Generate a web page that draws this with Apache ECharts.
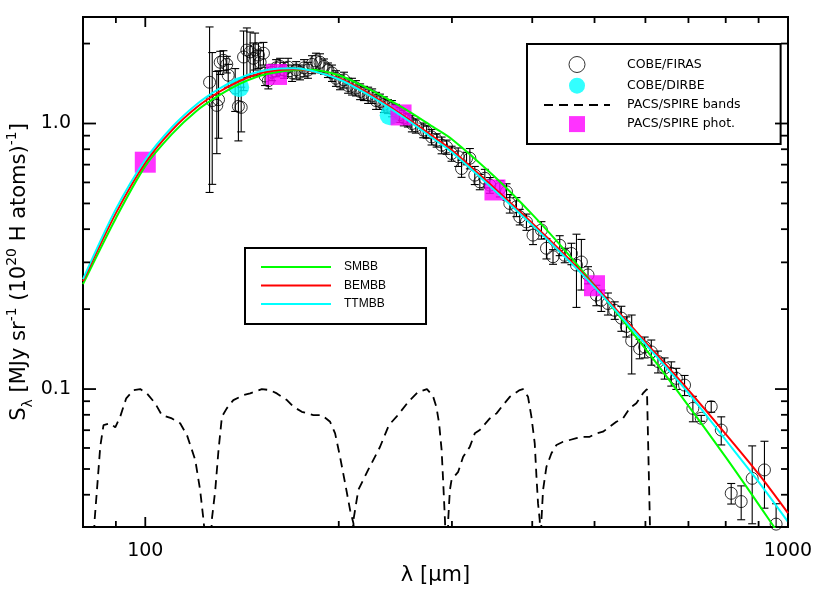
<!DOCTYPE html>
<html><head><meta charset="utf-8">
<script src="https://cdn.jsdelivr.net/npm/echarts@6/dist/echarts.min.js"></script>
<style>html,body{margin:0;padding:0;background:#fff}#c{width:830px;height:593px}</style>
</head><body><div id="c"></div>
<script>
// ---------- data ----------
const modelLam = [80,90,100,110,120,130,140,150,160,170,180,200,220,250,280,300,350,400,450,500,600,700,800,900,1000];
const smbbS  = [0.2484,0.4400,0.6909,0.9115,1.1125,1.2724,1.4060,1.5068,1.5600,1.5870,1.5939,1.5199,1.3696,1.1568,0.9727,0.8727,0.6284,0.4547,0.3323,0.2458,0.1417,0.0865,0.0554,0.0368,0.0253];
const bembbS = [0.2550,0.4597,0.7119,0.9436,1.1468,1.3115,1.4428,1.5394,1.5870,1.6009,1.5802,1.4808,1.3172,1.0839,0.8958,0.7933,0.5683,0.4215,0.3193,0.2452,0.1503,0.0991,0.0677,0.0479,0.0341];
const ttmbbS = [0.2594,0.4759,0.7307,0.9684,1.1771,1.3461,1.4808,1.5663,1.6076,1.6146,1.5870,1.4681,1.3003,1.0700,0.8804,0.7797,0.5587,0.4143,0.3138,0.2420,0.1477,0.0966,0.0643,0.0447,0.0316];

const band1Lam = [83,83.4,84.1,85.1,86.1,88.2,89.8,91.4,93.4,95.9,98.2,100.6,103.6,106.1,110.0,113.3,116.1,119.6,121.7,123.2,124.4];
const band1S   = [0.025,0.0321,0.0417,0.0607,0.0732,0.0743,0.0718,0.0787,0.0923,0.0991,0.1000,0.0963,0.0884,0.0798,0.0775,0.0743,0.0671,0.0541,0.0417,0.0321,0.025];
const band2Lam = [126.5,126.9,128.5,130.0,131.6,133.9,137.1,142.2,145.6,151.8,156.4,160.2,166.1,170.0,175.2,182.6,188.2,193.9,197.4,200.9,204.6,208.3,210.8,211.5];
const band2S   = [0.025,0.0321,0.0417,0.0590,0.0787,0.0846,0.0909,0.0949,0.0963,0.1000,0.0991,0.0963,0.0909,0.0858,0.0821,0.0798,0.0798,0.0753,0.0681,0.0556,0.0442,0.0350,0.0312,0.025];
const band3Lam = [210.0,210.8,214.5,222.2,231.8,239.4,246.4,257.2,265.6,274.3,280.3,283.8,286.5,289.1,290.8,292.6,293.5];
const band3S   = [0.025,0.0321,0.0417,0.0496,0.0605,0.0732,0.0791,0.0901,0.0974,0.1000,0.0941,0.0855,0.0743,0.0590,0.0443,0.0321,0.025];
const band4Lam = [295.5,296.0,297.8,299.6,306.8,312.3,319.9,325.6,331.5,343.6,352.0,360.4,369.1,382.5,387.0,394.0,398.8,403.6,406.1,408.4,410.9,412.0];
const band4S   = [0.025,0.0321,0.0417,0.0455,0.0488,0.0556,0.0607,0.0681,0.0701,0.0775,0.0810,0.0871,0.0935,0.0991,0.1000,0.0935,0.0787,0.0625,0.0468,0.0371,0.0321,0.025];
const band5Lam = [412.5,413.4,415.8,420.9,428.5,436.3,446.7,457.6,468.7,479.8,491.4,503.3,515.4,527.9,540.7,553.7,567.1,580.8,594.6,603.3,606.9,611.0];
const band5S   = [0.025,0.0321,0.0417,0.0510,0.0573,0.0616,0.0633,0.0643,0.0653,0.0661,0.0661,0.0681,0.0691,0.0721,0.0753,0.0775,0.0846,0.0884,0.0963,0.1000,0.0991,0.025];

const firasLam = [125.9,127.1,129.2,130.0,130.8,132.3,133.9,134.6,138.0,139.6,141.0,142.2,143.9,145.6,147.3,148.2,150.0,150.9,152.7,153.6,155.4,
157.5,159.8,162.1,164.4,166.8,169.2,171.7,174.1,176.6,179.1,181.7,184.3,187.0,189.7,192.4,195.2,198.0,200.9,203.8,206.8,209.7,212.7,215.9,218.9,222.2,225.4,228.6,231.8,235.1,238.5,242.0,245.5,248.9,252.5,256.2,259.9,263.6,
270.7,274.0,278.9,284.0,289.1,294.3,299.6,306.8,310.5,316.1,319.9,325.6,331.5,337.5,343.6,356.2,364.8,369.1,378.0,382.5,391.8,401.1,413.4,420.9,430.9,441.4,449.4,460.3,468.7,477.0,488.5,503.3,512.3,524.6,537.5,550.5,560.5,571.2,587.7,598.4,612.8,627.6,642.7,658.3,670.3,690.3,711.2,732.8,759.5,787.3,815.9,845.6,879.6,919.1,958.3];
const firasS = [1.43,1.22,1.17,1.23,1.70,1.73,1.67,1.52,1.36,1.16,1.15,1.78,1.89,1.86,1.76,1.89,1.81,1.70,1.84,1.51,1.45,
1.56,1.62,1.64,1.59,1.63,1.55,1.59,1.56,1.62,1.59,1.67,1.72,1.70,1.64,1.59,1.55,1.48,1.43,1.46,1.39,1.38,1.36,1.32,1.30,1.28,1.27,1.22,1.21,1.18,1.16,1.14,1.11,1.08,1.05,1.03,1.00,0.98,
0.944,0.930,0.890,0.865,0.829,0.816,0.771,0.749,0.677,0.739,0.740,0.639,0.603,0.622,0.586,0.569,0.553,0.500,0.486,0.445,0.426,0.380,0.397,0.339,0.315,0.348,0.319,0.324,0.293,0.301,0.269,0.226,0.216,0.210,0.198,0.185,0.172,0.152,0.142,0.144,0.138,0.127,0.120,0.1146,0.1097,0.1035,0.0846,0.0776,0.0858,0.0701,0.0405,0.0377,0.0461,0.0496,0.0310];
const firasErr = [0.88,0.63,0.40,0.35,0.17,0.15,0.12,0.15,0.25,0.30,0.22,0.45,0.40,0.35,0.25,0.30,0.20,0.18,0.18,0.12,0.10,
0.11,0.12,0.12,0.11,0.13,0.11,0.12,0.10,0.12,0.11,0.13,0.12,0.13,0.11,0.10,0.11,0.10,0.09,0.10,0.09,0.10,0.09,0.09,0.08,0.09,0.08,0.09,0.08,0.08,0.07,0.08,0.07,0.07,0.07,0.06,0.07,0.06,
0.06,0.05,0.06,0.05,0.06,0.05,0.05,0.06,0.05,0.04,0.065,0.05,0.04,0.05,0.04,0.04,0.04,0.04,0.04,0.03,0.03,0.03,0.03,0.03,0.02,0.03,0.02,0.03,0.09,0.065,0.02,0.02,0.02,0.02,0.015,0.02,0.015,0.038,0.012,0.013,0.015,0.012,0.011,0.012,0.010,0.009,0.0093,0.002,0.004,0.0085,0.0036,0.0055,0.015,0.014,0.006];

const dirbeLam = [140, 240];
const dirbeS   = [1.37, 1.074];
const photLam  = [100, 160, 250, 350, 500];
const photS    = [0.715, 1.53, 1.077, 0.562, 0.245];

const xTickMajor = [100, 1000];
const xTickMinor = [80, 90, 200, 300, 400, 500, 600, 700, 800, 900];
const yTickMajor = [0.1, 1];
const yTickMinor = [0.04,0.05,0.06,0.07,0.08,0.09,0.2,0.3,0.4,0.5,0.6,0.7,0.8,0.9,2];
const xLabelVals = [100, 1000];
const xLabelText = ['100', '1000'];
const yLabelVals = [0.1, 1];
const yLabelText = ['0.1', '1.0'];

// ---------- chart ----------
const FONT = 'DejaVu Sans';
const xy = (xs, ys) => xs.map((x, i) => [x, ys[i]]);
const near = (a, b) => Math.abs(Math.log10(a) - Math.log10(b)) < 1e-6;
const bands = [[band1Lam, band1S], [band2Lam, band2S], [band3Lam, band3S], [band4Lam, band4S], [band5Lam, band5S]];
const hidden = {color: 'rgba(0,0,0,0)', borderColor: 'rgba(0,0,0,0)', borderWidth: 0};

function errRender(params, api) {
  const lam = api.value(0), s = api.value(1), e = api.value(2);
  const x = api.coord([lam, s])[0];
  const yt = api.coord([lam, s + e])[1];
  const lo = s - e;
  const cs = params.coordSys;
  const yb = lo > 0 ? api.coord([lam, lo])[1] : cs.y + cs.height + 20;
  const st = {stroke: '#000', lineWidth: 1.1};
  const cw = 4;
  return {type: 'group', children: [
    {type: 'line', shape: {x1: x, y1: yt, x2: x, y2: yb}, style: st},
    {type: 'line', shape: {x1: x - cw, y1: yt, x2: x + cw, y2: yt}, style: st},
    {type: 'line', shape: {x1: x - cw, y1: yb, x2: x + cw, y2: yb}, style: st}
  ]};
}

function tickRender(params, api) {
  const cs = params.coordSys;
  const kind = api.value(2);
  const st = {stroke: '#000', lineWidth: 1.8};
  if (kind <= 1) {
    const px = api.coord([api.value(0), 1])[0];
    const len = kind === 1 ? 10 : 6;
    const b = cs.y + cs.height, t = cs.y;
    return {type: 'group', children: [
      {type: 'line', shape: {x1: px, y1: b, x2: px, y2: b - len}, style: st},
      {type: 'line', shape: {x1: px, y1: t, x2: px, y2: t + len}, style: st}
    ]};
  }
  const py = api.coord([100, api.value(1)])[1];
  const len = kind === 3 ? 13 : 7;
  const l = cs.x, r = cs.x + cs.width;
  return {type: 'group', children: [
    {type: 'line', shape: {x1: l, y1: py, x2: l + len, y2: py}, style: st},
    {type: 'line', shape: {x1: r, y1: py, x2: r - len, y2: py}, style: st}
  ]};
}

const tickData = [].concat(
  xTickMinor.map(v => [v, 1, 0]),
  xTickMajor.map(v => [v, 1, 1]),
  yTickMinor.map(v => [100, v, 2]),
  yTickMajor.map(v => [100, v, 3])
);

const chart = echarts.init(document.getElementById('c'), null, {renderer: 'canvas'});
const option = {
  animation: false,
  backgroundColor: '#fff',
  grid: {left: 83, right: 42, top: 17, bottom: 66, show: true, borderColor: '#000', borderWidth: 2,
    backgroundColor: 'rgba(0,0,0,0)', containLabel: false, outerBoundsMode: 'none'},
  xAxis: {
    type: 'log', logBase: 10, min: 80, max: 1000,
    axisLine: {show: false}, axisTick: {show: false}, splitLine: {show: false},
    axisLabel: {margin: 15, fontFamily: FONT, fontSize: 19, color: '#000',
      formatter: v => { const i = xLabelVals.findIndex(t => near(t, v)); return i >= 0 ? xLabelText[i] : ''; }},
    name: 'λ [μm]', nameLocation: 'middle', nameGap: 38, nameMoveOverlap: false,
    nameTextStyle: {fontFamily: FONT, fontSize: 21, color: '#000'}
  },
  yAxis: {
    type: 'log', logBase: 10, min: 0.03024, max: 2.518,
    axisLine: {show: false}, axisTick: {show: false}, splitLine: {show: false},
    axisLabel: {margin: 12, fontFamily: FONT, fontSize: 19, color: '#000',
      formatter: v => { const i = yLabelVals.findIndex(t => near(t, v)); return i >= 0 ? yLabelText[i] : ''; }},
    name: '{t|S}{sub|λ}{t| [MJy sr}{sup|-1}{t| (10}{sup|20}{t| H atoms)}{sup|-1}{t|]}',
    nameLocation: 'middle', nameGap: 48, nameRotate: 90, nameMoveOverlap: false,
    nameTextStyle: {fontFamily: FONT, fontSize: 21, color: '#000',
      rich: {
        t: {fontFamily: FONT, fontSize: 21, color: '#000', lineHeight: 30},
        sup: {fontFamily: FONT, fontSize: 14, color: '#000', verticalAlign: 'top'},
        sub: {fontFamily: FONT, fontSize: 14, color: '#000', verticalAlign: 'bottom'}
      }}
  },
  legend: [
    {
      orient: 'vertical', left: 527, top: 44, padding: [12, 40, 12, 16],
      itemWidth: 66, itemHeight: 16, itemGap: 4.7,
      borderColor: '#000', borderWidth: 2, backgroundColor: '#fff', selectedMode: false,
      textStyle: {fontFamily: FONT, fontSize: 12.5, color: '#000', padding: [0, 0, 0, 12]},
      data: [
        {name: 'COBE/FIRAS', icon: 'circle', itemStyle: {color: 'rgba(0,0,0,0)', borderColor: '#000', borderWidth: 1}},
        {name: 'COBE/DIRBE', icon: 'circle', itemStyle: {color: '#00ffff', borderWidth: 0}},
        {name: 'PACS/SPIRE bands', itemStyle: hidden},
        {name: 'PACS/SPIRE phot.', icon: 'path://M0,0L10,0L10,10L0,10Z', itemStyle: {color: '#ff00ff', borderWidth: 0}}
      ]
    },
    {
      orient: 'vertical', left: 245, top: 248, padding: [13, 40, 14, 15],
      itemWidth: 70, itemHeight: 14, itemGap: 6.5,
      borderColor: '#000', borderWidth: 2, backgroundColor: '#fff', selectedMode: false,
      textStyle: {fontFamily: 'Liberation Sans', fontSize: 12, color: '#000', padding: [0, 0, 0, 8]},
      data: [
        {name: 'SMBB', itemStyle: hidden},
        {name: 'BEMBB', itemStyle: hidden},
        {name: 'TTMBB', itemStyle: hidden}
      ]
    }
  ],
  series: [].concat(
    bands.map(b => ({
      type: 'line', name: 'PACS/SPIRE bands', data: xy(b[0], b[1]), symbol: 'none', clip: true, silent: true, z: 2,
      itemStyle: {color: '#000'}, lineStyle: {color: '#000', width: 1.8, type: [9, 6]}
    })),
    [
      {type: 'custom', name: 'firasErr', data: firasLam.map((l, i) => [l, firasS[i], firasErr[i]]),
        encode: {x: 0, y: 1}, renderItem: errRender, clip: true, silent: true, z: 3},
      {type: 'scatter', name: 'COBE/FIRAS', data: xy(firasLam, firasS), symbol: 'circle', symbolSize: 12, silent: true, z: 3,
        itemStyle: {color: 'rgba(0,0,0,0)', borderColor: '#000', borderWidth: 1}},
      {type: 'scatter', name: 'COBE/DIRBE', data: xy(dirbeLam, dirbeS), symbol: 'circle', symbolSize: 20, silent: true, z: 4,
        itemStyle: {color: '#00ffff'}},
      {type: 'scatter', name: 'PACS/SPIRE phot.', data: xy(photLam, photS), symbol: 'rect', symbolSize: 21, silent: true, z: 4,
        itemStyle: {color: '#ff00ff'}},
      {type: 'line', name: 'SMBB', data: xy(modelLam, smbbS), symbol: 'none', smooth: 0.3, clip: true, silent: true, z: 5,
        itemStyle: {color: '#00ff00'}, lineStyle: {color: '#00ff00', width: 2}},
      {type: 'line', name: 'BEMBB', data: xy(modelLam, bembbS), symbol: 'none', smooth: 0.3, clip: true, silent: true, z: 5,
        itemStyle: {color: '#ff0000'}, lineStyle: {color: '#ff0000', width: 2}},
      {type: 'line', name: 'TTMBB', data: xy(modelLam, ttmbbS), symbol: 'none', smooth: 0.3, clip: true, silent: true, z: 5,
        itemStyle: {color: '#00ffff'}, lineStyle: {color: '#00ffff', width: 2}},
      {type: 'custom', name: 'ticks', data: tickData, encode: {x: 0, y: 1}, renderItem: tickRender, silent: true, z: 6}
    ]
  )
};
chart.setOption(option);
</script>
</body></html>
